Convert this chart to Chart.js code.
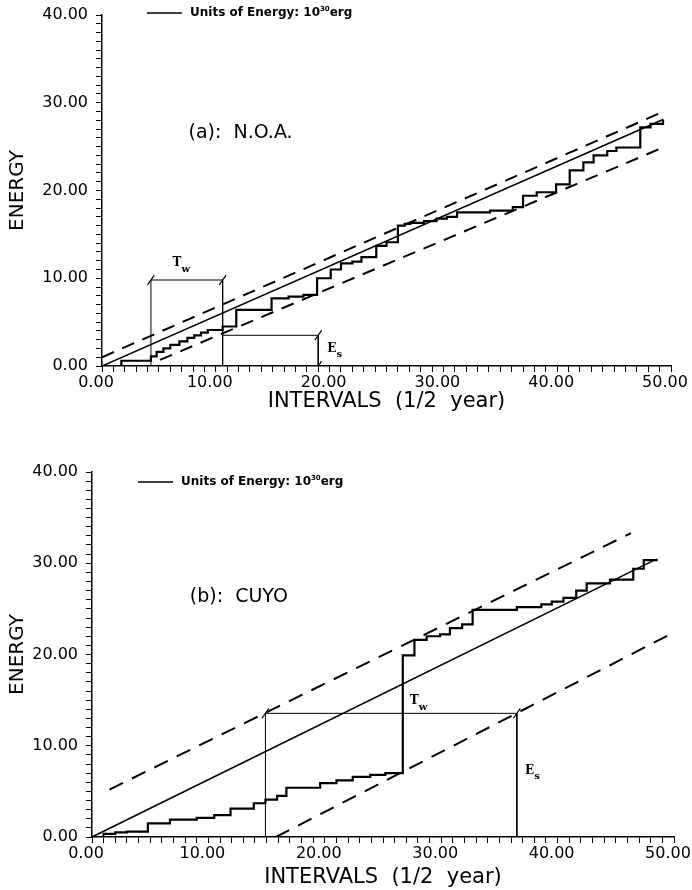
<!DOCTYPE html>
<html>
<head>
<meta charset="utf-8">
<script src="https://cdn.jsdelivr.net/npm/chart.js@4.4.1/dist/chart.umd.min.js"></script>
<style>
  html, body { margin: 0; padding: 0; background: #fff; }
  .panel { position: absolute; left: 0; width: 692px; }
</style>
</head>
<body>
<div class="panel" style="top:0"><canvas id="chartA" width="692" height="440"></canvas></div>
<div class="panel" style="top:440px"><canvas id="chartB" width="692" height="450"></canvas></div>
<script>
// (a) N.O.A. : cumulative energy (staircase), fit line and the two bounds
const noaStepX = [0, 1.7, 4.3, 4.8, 5.4, 6.0, 6.8, 7.5, 8.1, 8.7, 9.3, 10.6, 11.8, 14.9, 16.4, 17.7, 18.9, 20.1, 21.0, 22.0, 22.8, 24.1, 25.0, 26.0, 26.6, 27.1, 28.3, 29.4, 30.3, 31.2, 34.1, 36.1, 37.0, 38.2, 39.9, 41.1, 42.3, 43.2, 44.4, 45.2, 47.3, 48.2, 49.3];
const noaStepE = [0, 0.6, 1.1, 1.6, 2.0, 2.4, 2.8, 3.2, 3.5, 3.8, 4.1, 4.5, 6.4, 7.7, 7.9, 8.1, 10.0, 11.0, 11.7, 11.9, 12.4, 13.7, 14.1, 16.0, 16.2, 16.3, 16.5, 16.8, 17.0, 17.5, 17.7, 18.1, 19.4, 19.8, 20.7, 22.3, 23.2, 24.0, 24.5, 24.9, 27.2, 27.6, 28.1];
const noaFitX = [0, 49.3], noaFitE = [0, 28.1];
const noaUpX = [0, 49.0], noaUpE = [1.0, 28.8];
const noaLowX = [5.1, 49.3], noaLowE = [0.7, 24.9];
const noaTwX = [4.3, 4.3, 10.6, 10.6], noaTwE = [0, 9.8, 9.8, 0];
const noaEsX = [10.6, 19.0, 19.0], noaEsE = [3.5, 3.5, 0];
const noaMarkX = [4.3, 10.6, 19.0, 19.0], noaMarkE = [9.8, 9.8, 3.5, 0];

// (b) CUYO
const cuyoStepX = [0, 1.0, 2.0, 3.0, 4.8, 6.7, 9.0, 10.5, 11.9, 13.9, 14.9, 15.9, 16.7, 19.6, 21.0, 22.4, 23.9, 25.2, 26.7, 26.7, 27.7, 28.75, 29.9, 30.75, 31.8, 32.7, 36.5, 38.6, 39.5, 40.5, 41.6, 42.5, 44.5, 46.5, 47.4, 48.5];
const cuyoStepE = [0, 0.35, 0.5, 0.6, 1.5, 1.9, 2.1, 2.4, 3.1, 3.7, 4.1, 4.5, 5.4, 5.9, 6.2, 6.6, 6.8, 7.0, 7.3, 19.9, 21.6, 22.0, 22.2, 22.9, 23.3, 24.9, 25.2, 25.5, 25.8, 26.2, 27.0, 27.8, 28.2, 29.4, 30.35, 30.5];
const cuyoFitX = [0, 48.4], cuyoFitE = [0, 30.4];
const cuyoUpX = [1.5, 46.3], cuyoUpE = [5.2, 33.3];
const cuyoLowX = [15.8, 49.8], cuyoLowE = [0, 22.3];
const cuyoTwX = [14.9, 14.9, 36.5, 36.5], cuyoTwE = [0, 13.55, 13.55, 0];
const cuyoMarkX = [14.9, 36.5], cuyoMarkE = [13.55, 13.55];

const majorTicks = [0, 10, 20, 30, 40, 50];

const pts = (xs, ys) => xs.map((x, i) => ({ x, y: ys[i] }));

const annotate = {
  id: "annotate",
  afterDatasetsDraw(chart, args, o) {
    const { ctx } = chart;
    const x = chart.scales.x, y = chart.scales.y;
    ctx.save();
    ctx.fillStyle = "#000";
    ctx.strokeStyle = "#000";
    // legend line + units
    ctx.lineWidth = 1.5;
    ctx.beginPath();
    ctx.moveTo(o.legend[0], o.legend[1]);
    ctx.lineTo(o.legend[0] + 35, o.legend[1]);
    ctx.stroke();
    ctx.textBaseline = "middle";
    ctx.textAlign = "left";
    let tx = o.legend[0] + 43;
    ctx.font = "bold 12px 'DejaVu Sans'";
    ctx.fillText("Units of Energy: 10", tx, o.legend[1]);
    tx += ctx.measureText("Units of Energy: 10").width;
    ctx.font = "bold 7px 'DejaVu Sans'";
    ctx.fillText("30", tx, o.legend[1] - 4);
    tx += ctx.measureText("30").width;
    ctx.font = "bold 12px 'DejaVu Sans'";
    ctx.fillText("erg", tx, o.legend[1]);
    // panel title
    ctx.font = "19px 'DejaVu Sans'";
    ctx.fillText(o.title, x.getPixelForValue(o.titleAt[0]), y.getPixelForValue(o.titleAt[1]));
    // symbols
    const sym = (main, sub, at) => {
      const px = x.getPixelForValue(at[0]), py = y.getPixelForValue(at[1]);
      ctx.font = "bold 12px 'DejaVu Serif'";
      ctx.fillText(main, px, py);
      const w = ctx.measureText(main).width;
      ctx.font = "bold 10px 'DejaVu Serif'";
      ctx.fillText(sub, px + w, py + 6);
    };
    sym("T", "w", o.tw);
    sym("E", "s", o.es);
    ctx.restore();
  }
};

function axisOpts(max, size, isX) {
  return {
    type: "linear",
    min: 0,
    max: max,
    afterFit: (s) => {
      if (isX) { s.height = size; s.paddingLeft = 0; s.paddingRight = 0; }
      else { s.width = size; s.paddingTop = 0; s.paddingBottom = 0; }
    },
    border: { display: true, color: "#000", width: 1.5 },
    grid: { drawOnChartArea: false, drawTicks: true, tickLength: 6, color: "#000", tickWidth: 1 },
    ticks: {
      stepSize: 1,
      autoSkip: false,
      maxRotation: 0,
      color: "#000",
      padding: isX ? 1 : 8,
      labelOffset: isX ? -6 : 0,
      font: { family: "'DejaVu Sans'", size: 16 },
      callback: (v) => (majorTicks.includes(v) ? v.toFixed(2) : ""),
    },
    title: {
      display: true,
      text: isX ? "INTERVALS  (1/2  year)" : "ENERGY",
      color: "#000",
      padding: 0,
      font: { family: "'DejaVu Sans'", size: isX ? 21 : 20 },
    },
  };
}

function makeChart(target, d) {
  return new Chart(document.getElementById(target), {
    type: "line",
    plugins: [annotate],
    data: {
      datasets: [
        { data: pts(d.stepX, d.stepE), stepped: true, borderColor: "#000", borderWidth: 2.2, pointRadius: 0 },
        { data: pts(d.fitX, d.fitE), borderColor: "#000", borderWidth: 1.6, pointRadius: 0 },
        { data: pts(d.upX, d.upE), borderColor: "#000", borderWidth: 2, borderDash: d.dash, pointRadius: 0 },
        { data: pts(d.lowX, d.lowE), borderColor: "#000", borderWidth: 2, borderDash: d.dash, pointRadius: 0 },
        ...d.brackets.map((b) => ({ data: pts(b[0], b[1]), borderColor: "#000", borderWidth: 1, pointRadius: 0 })),
        {
          data: pts(d.markX, d.markE), showLine: false, pointStyle: "line", rotation: -55,
          pointRadius: 6, borderColor: "#000", borderWidth: 1.2,
        },
      ],
    },
    options: {
      responsive: false,
      animation: false,
      layout: { padding: d.pad },
      plugins: {
        legend: { display: false },
        tooltip: { enabled: false },
        annotate: { legend: d.legend, title: d.title, titleAt: d.titleAt, tw: d.tw, es: d.es },
      },
      scales: {
        x: axisOpts(50, d.xHeight, true),
        y: axisOpts(40, d.yWidth, false),
      },
    },
  });
}

makeChart("chartA", {
  stepX: noaStepX, stepE: noaStepE, fitX: noaFitX, fitE: noaFitE,
  upX: noaUpX, upE: noaUpE, lowX: noaLowX, lowE: noaLowE,
  brackets: [[noaTwX, noaTwE], [noaEsX, noaEsE]],
  markX: noaMarkX, markE: noaMarkE, dash: [13, 9],
  pad: { left: 6, right: 21, top: 15, bottom: 26 }, yWidth: 96, xHeight: 48,
  legend: [147, 13], title: "(a):  N.O.A.", titleAt: [7.6, 26.5],
  tw: [6.2, 11.7], es: [19.8, 2.0],
});

makeChart("chartB", {
  stepX: cuyoStepX, stepE: cuyoStepE, fitX: cuyoFitX, fitE: cuyoFitE,
  upX: cuyoUpX, upE: cuyoUpE, lowX: cuyoLowX, lowE: cuyoLowE,
  brackets: [[cuyoTwX, cuyoTwE]],
  markX: cuyoMarkX, markE: cuyoMarkE, dash: [15, 10],
  pad: { left: 6, right: 18, top: 32, bottom: 0 }, yWidth: 86, xHeight: 53,
  legend: [138, 42], title: "(b):  CUYO", titleAt: [8.4, 26.3],
  tw: [27.3, 14.9], es: [37.2, 7.3],
});
</script>
</body>
</html>
